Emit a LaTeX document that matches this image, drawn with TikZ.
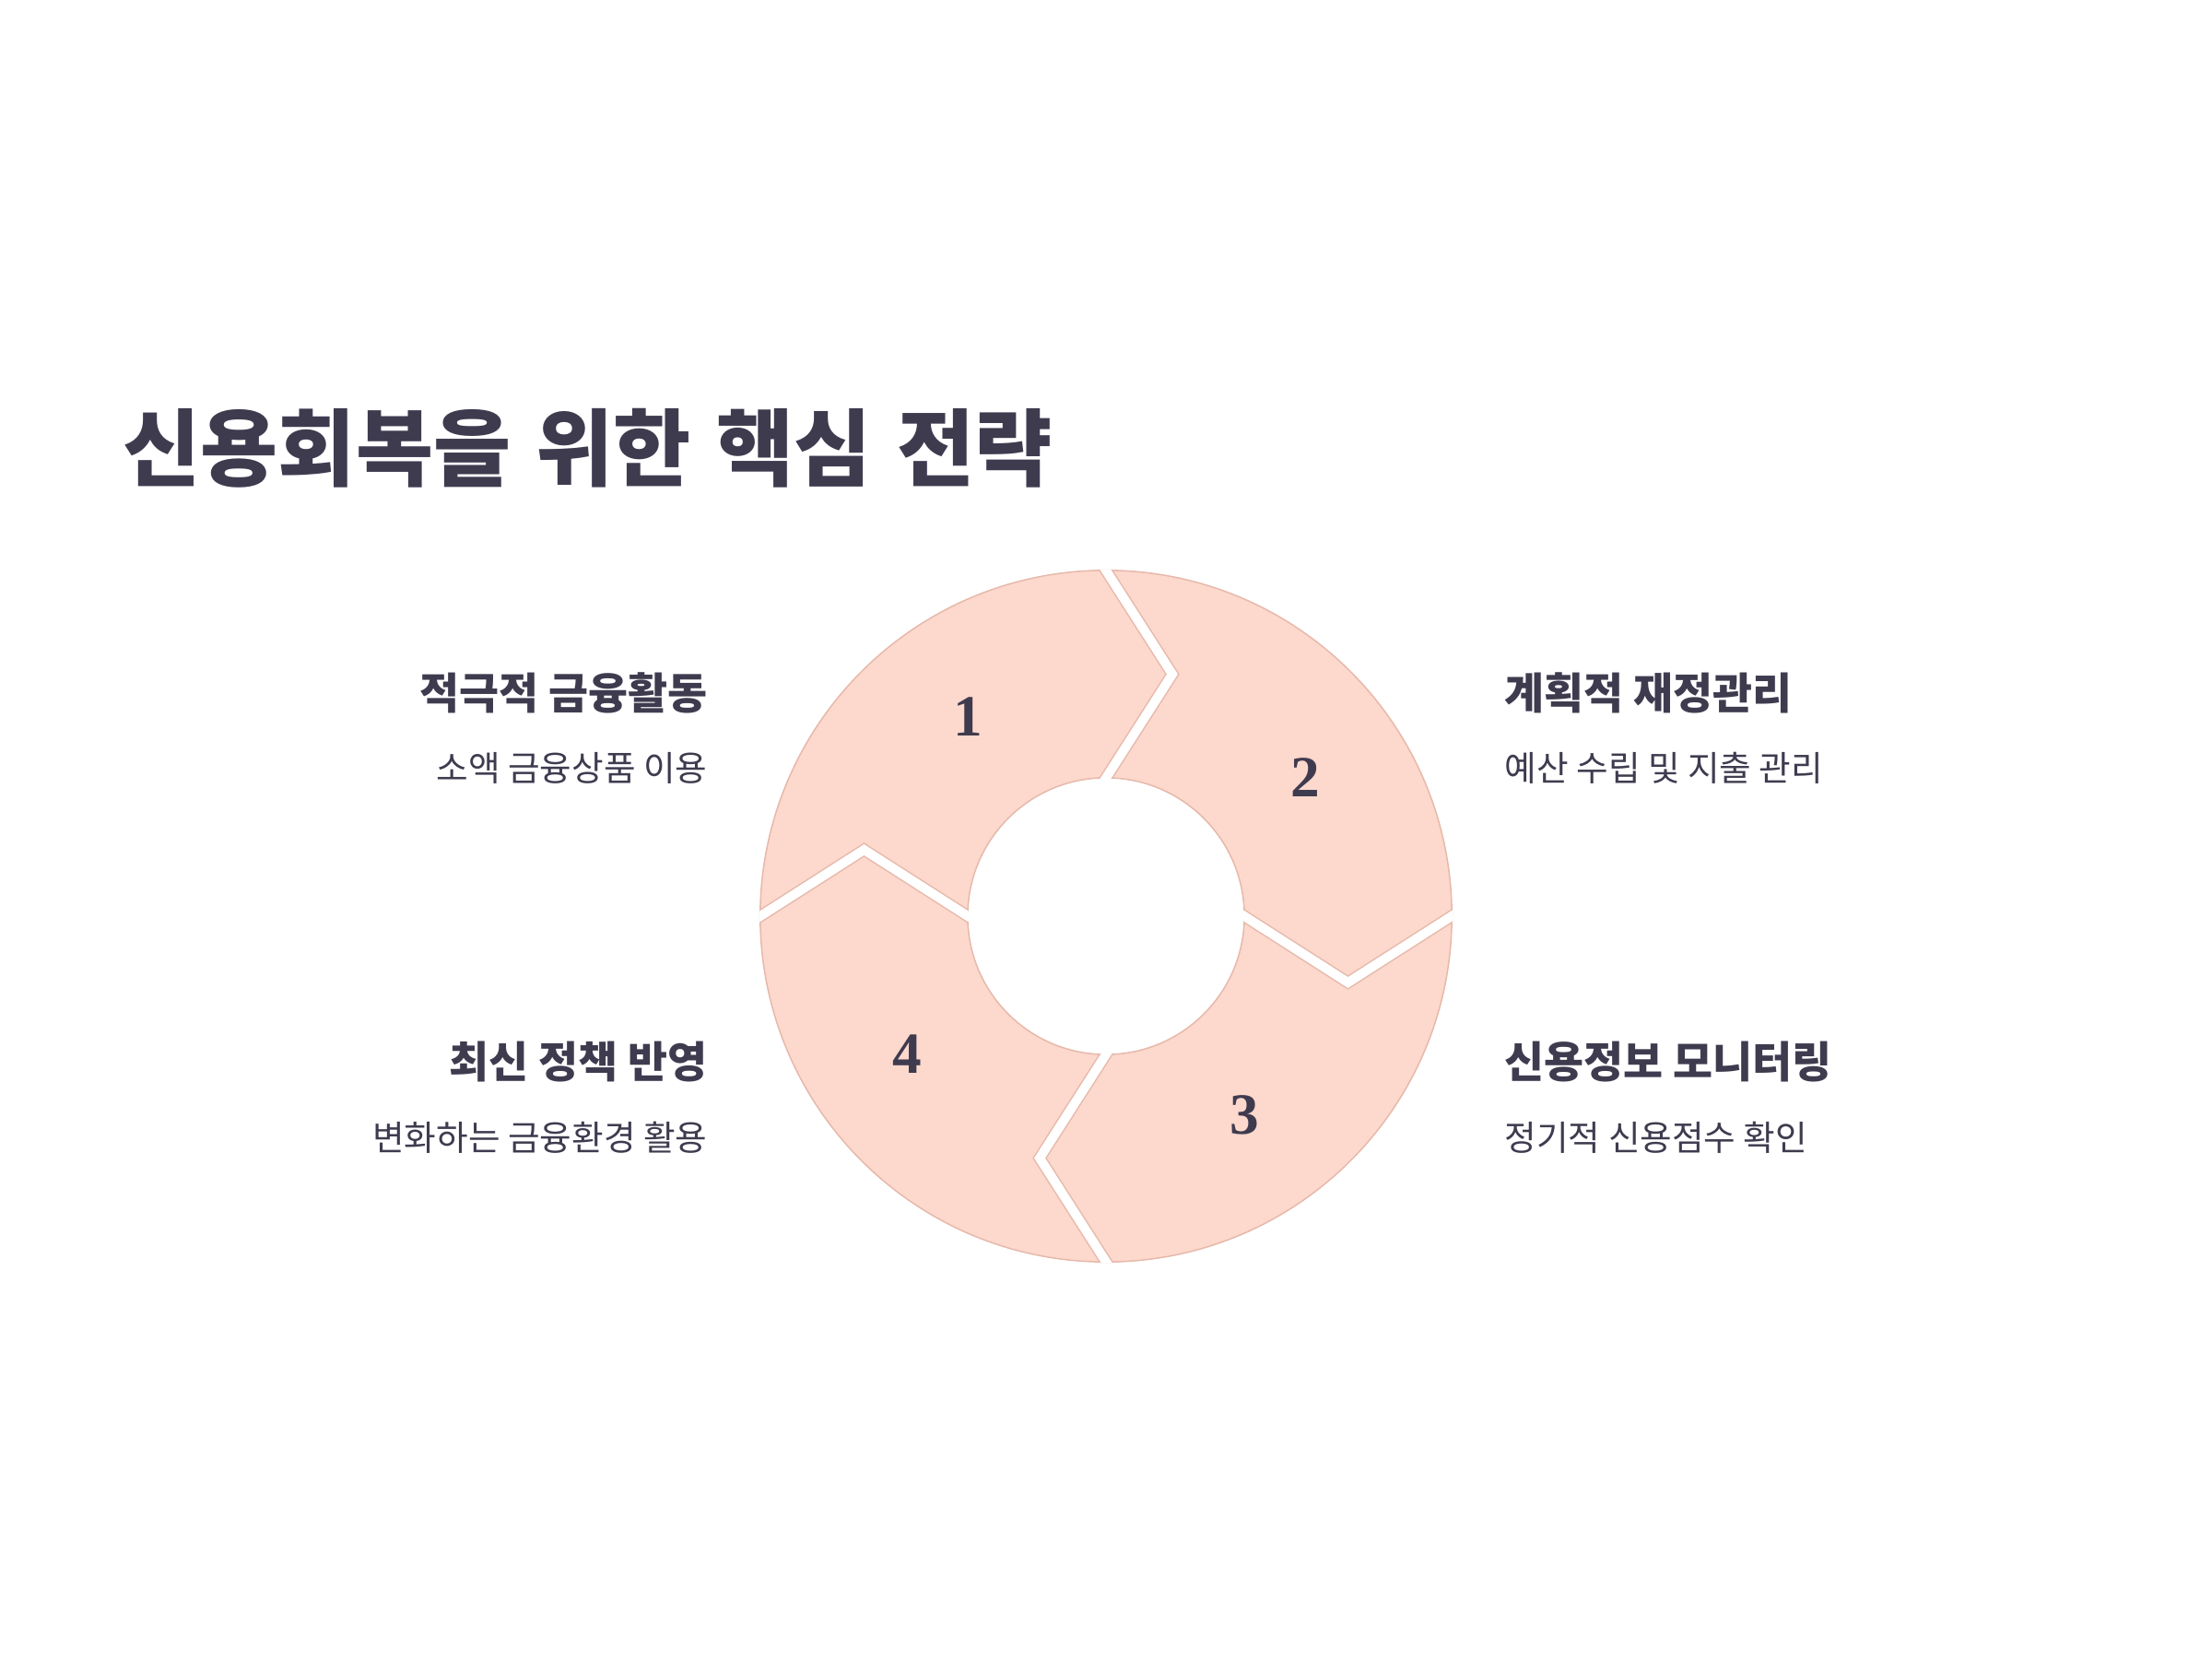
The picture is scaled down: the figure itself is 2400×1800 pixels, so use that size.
\documentclass[tikz,border=0pt]{standalone}
\usepackage{fontspec}
\newfontfamily\kr{Noto Sans CJK KR}
\newfontfamily\numfont{Liberation Serif}
\definecolor{ringfill}{HTML}{FDD8CC}
\definecolor{ringedge}{HTML}{E6B9AB}
\definecolor{ink}{HTML}{3F3B4F}
\newcommand{\tsp}{\hspace{0.3em}}
\begin{document}
\begin{tikzpicture}[x=0.01cm,y=-0.01cm,
  titletext/.style={font=\kr\bfseries\fontsize{26}{30}\selectfont, text=ink, inner sep=0},
  headtext/.style={font=\kr\bfseries\fontsize{13.3}{16}\selectfont, text=ink, inner sep=0},
  subtext/.style={font=\kr\fontsize{10.7}{13}\selectfont, text=ink, inner sep=0},
  numtext/.style={font=\numfont\bfseries\fontsize{18}{20}\selectfont, text=ink, inner sep=0},
  sepedge/.style={draw=ringedge, line width=0.13cm, line join=miter},
  sepgap/.style={draw=white, line width=0.10cm, line join=miter}]
\fill[white] (0,0) rectangle (2400,1800);
\useasboundingbox (0,0) rectangle (2400,1800);
\node[titletext, anchor=west] (title) at (133,486) {신용회복을\tsp 위한\tsp 핵심\tsp 전략};
\begin{scope}[shift={(1200,994)}]
  \coordinate (c) at (0,0);
  \fill[ringfill, even odd rule] (c) circle[radius=3.75cm] (c) circle[radius=1.5cm];
  \draw[ringedge, line width=0.015cm] (c) circle[radius=3.75cm] (c) circle[radius=1.5cm];
  % separators
  \coordinate (tO) at (-10.8,-391.9); \coordinate (tT) at (72,-262.5); \coordinate (tI) at (-10.8,-133.1);
  \coordinate (rO) at (391.9,-10.8); \coordinate (rT) at (262.5,72); \coordinate (rI) at (133.1,-10.8);
  \coordinate (bO) at (10.8,391.9); \coordinate (bT) at (-72,262.5); \coordinate (bI) at (10.8,133.1);
  \coordinate (lO) at (-391.9,10.8); \coordinate (lT) at (-262.5,-72); \coordinate (lI) at (-133.1,10.8);
  \begin{scope}[even odd rule]
    \clip (c) circle[radius=3.76cm] (c) circle[radius=1.49cm];
    \foreach \s in {t,r,b,l} {
      \draw[sepedge] (\s O) -- (\s T) -- (\s I);
    }
    \foreach \s in {t,r,b,l} {
      \draw[sepgap] (\s O) -- (\s T) -- (\s I);
    }
  \end{scope}
  \node[numtext] (n1) at (-150,-216) {1};
  \node[numtext] (n2) at (216,-150) {2};
  \node[numtext] (n3) at (150,216) {3};
  \node[numtext] (n4) at (-216,150) {4};
\end{scope}
\node[headtext, anchor=east] (h1) at (768,752) {적극적 금융활동};
\node[subtext, anchor=east] (s1) at (768,833) {소액 금융상품 이용};
\node[headtext, anchor=west] (h2) at (1632,752) {계획적 재정관리};
\node[subtext, anchor=west] (s2) at (1632,833) {예산 수립 및 지출 관리};
\node[headtext, anchor=east] (h4) at (768,1152) {최신 정책 반영};
\node[subtext, anchor=east] (s4) at (768,1234) {변화하는 금융환경 활용};
\node[headtext, anchor=west] (h3) at (1632,1152) {신용정보 모니터링};
\node[subtext, anchor=west] (s3) at (1632,1234) {정기적 신용점수 확인};
\end{tikzpicture}
\end{document}
